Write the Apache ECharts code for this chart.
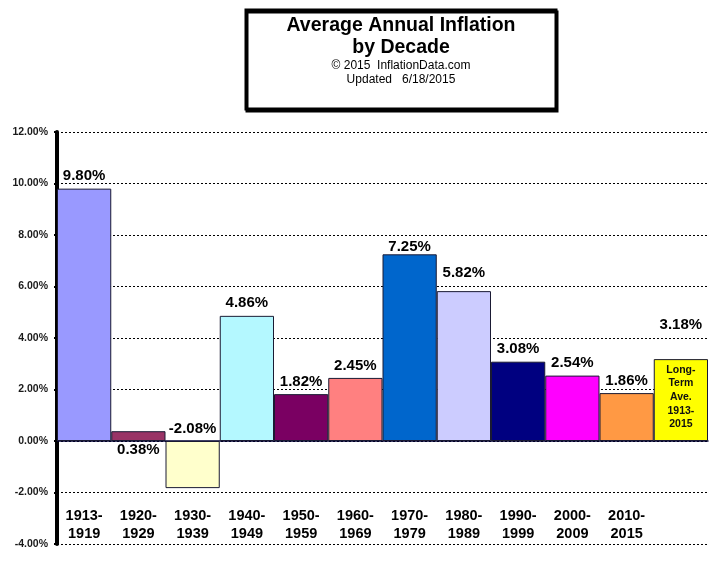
<!DOCTYPE html>
<html>
<head>
<meta charset="UTF-8">
<title>Average Annual Inflation by Decade</title>
<script src="https://cdn.jsdelivr.net/npm/echarts@6/dist/echarts.min.js"></script>
<style>
  html, body { margin: 0; padding: 0; background: #fff; }
  #main { width: 720px; height: 565px; }
</style>
</head>
<body>
<div id="main"></div>
<script type="text/javascript">
// data
var decades = ['1913-\n1919', '1920-\n1929', '1930-\n1939', '1940-\n1949', '1950-\n1959', '1960-\n1969',
               '1970-\n1979', '1980-\n1989', '1990-\n1999', '2000-\n2009', '2010-\n2015', ''];
var inflation = [9.80, 0.38, -1.83, 4.86, 1.82, 2.45, 7.25, 5.82, 3.08, 2.54, 1.86, 3.18];
var valueLabels = ['9.80%', '0.38%', '-2.08%', '4.86%', '1.82%', '2.45%', '7.25%', '5.82%', '3.08%', '2.54%', '1.86%', '3.18%'];
var longTermIndex = 11;
var longTermText = 'Long-\nTerm\nAve.\n1913-\n2015';
var yTicks = { min: -4, max: 12, step: 2 };

// styles
var font = '"Liberation Sans", Arial, sans-serif';
var barColors = ['#9999FF', '#993366', '#FFFFCC', '#B4F8FF', '#7A0062', '#FF8080',
                 '#0066CC', '#CCCCFF', '#000080', '#FF00FF', '#FF9944', '#FFFF00'];
// label placement tweaks, by bar index
var labelTweaks = {
  1: { position: 'bottom', distance: 1 },
  2: { position: 'top', distance: 5 },
  6: { distance: 0 },
  7: { distance: 11 },
  11: { distance: 27 }
};

var myChart = echarts.init(document.getElementById('main'));

var barData = inflation.map(function (v, i) {
  var item = {
    value: v,
    itemStyle: { color: barColors[i] }
  };
  if (labelTweaks[i]) {
    item.label = labelTweaks[i];
  }
  return item;
});

var innerData = inflation.map(function (v, i) {
  return i === longTermIndex ? v : '-';
});

var option = {
  animation: false,
  title: {
    text: 'Average Annual Inflation\nby Decade',
    subtext: '\u00A9 2015  InflationData.com\nUpdated   6/18/2015',
    left: 401,
    top: 14,
    textAlign: 'center',
    padding: 0,
    itemGap: 0,
    textStyle: {
      fontFamily: font,
      fontSize: 19.5,
      fontWeight: 'bold',
      color: '#000',
      lineHeight: 22.5
    },
    subtextStyle: {
      fontFamily: font,
      fontSize: 12,
      color: '#000',
      lineHeight: 14
    }
  },
  graphic: {
    elements: [{
      type: 'rect',
      z: -1,
      shape: { x: 246, y: 10, width: 310, height: 99 },
      style: {
        fill: '#fff',
        stroke: '#000',
        lineWidth: 3,
        shadowColor: '#000',
        shadowOffsetX: 1,
        shadowOffsetY: 2
      }
    }]
  },
  grid: {
    left: 57,
    right: 12,
    top: 132,
    bottom: 21,
    containLabel: false,
    outerBoundsMode: 'none'
  },
  xAxis: {
    type: 'category',
    data: decades,
    axisLine: {
      onZero: true,
      lineStyle: { color: '#000033', width: 1.5 }
    },
    axisTick: { show: false },
    axisLabel: {
      interval: 0,
      margin: -37,
      hideOverlap: false,
      fontFamily: font,
      fontSize: 14.5,
      fontWeight: 'bold',
      color: '#000',
      lineHeight: 18
    },
    splitLine: { show: false }
  },
  yAxis: {
    type: 'value',
    min: yTicks.min,
    max: yTicks.max,
    interval: yTicks.step,
    axisLine: {
      show: true,
      lineStyle: { color: '#000', width: 4 }
    },
    axisTick: {
      show: true,
      length: 3,
      lineStyle: { color: '#000', width: 2 }
    },
    axisLabel: {
      margin: 9,
      fontFamily: font,
      fontSize: 10.5,
      fontWeight: 'bold',
      color: '#1a1a1a',
      formatter: function (v) {
        return v.toFixed(2) + '%';
      }
    },
    splitLine: {
      show: true,
      lineStyle: { color: '#000', width: 1, type: [2, 2] }
    }
  },
  series: [{
    type: 'bar',
    data: barData,
    barCategoryGap: '0%',
    barGap: '-100%',
    itemStyle: {
      borderColor: '#1a1a33',
      borderWidth: 1
    },
    label: {
      show: true,
      position: 'top',
      distance: 5,
      fontFamily: font,
      fontSize: 15,
      fontWeight: 'bold',
      color: '#000',
      formatter: function (p) {
        return valueLabels[p.dataIndex];
      }
    }
  }, {
    type: 'bar',
    data: innerData,
    barCategoryGap: '0%',
    barGap: '-100%',
    silent: true,
    itemStyle: { color: 'rgba(0,0,0,0)' },
    label: {
      show: true,
      position: 'inside',
      offset: [0, -3],
      fontFamily: font,
      fontSize: 10.5,
      fontWeight: 'bold',
      color: '#111',
      lineHeight: 13.7,
      formatter: function () {
        return longTermText;
      }
    }
  }]
};

myChart.setOption(option);
</script>
</body>
</html>
